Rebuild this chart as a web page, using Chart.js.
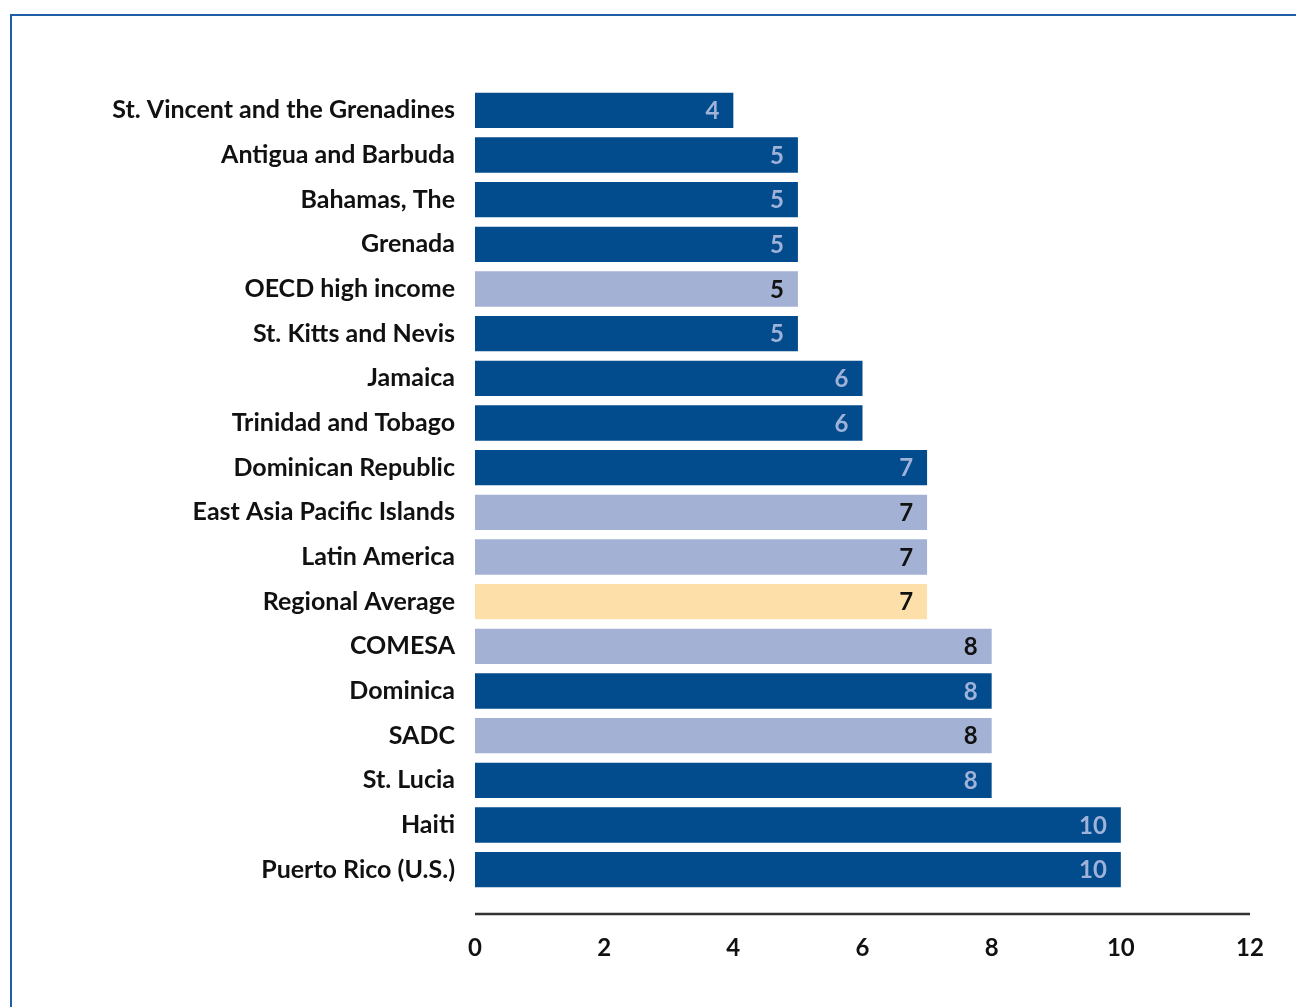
<!DOCTYPE html>
<html>
<head>
<meta charset="utf-8">
<script src="https://cdn.jsdelivr.net/npm/chart.js@4.4.1/dist/chart.umd.min.js"></script>
<style>
    body {
        margin: 0;
        background: #ffffff;
    }
    #wrap {
        position: relative;
        width: 1296px;
        height: 1007px;
    }
    #frame {
        position: absolute;
        left: 10px;
        top: 14px;
        width: 1300px;
        height: 1000px;
        border-top: 2px solid #1f5ea8;
        border-left: 2px solid #1f5ea8;
    }
    canvas {
        position: absolute;
        left: 0;
        top: 0;
    }
</style>
</head>
<body>
<div id="wrap">
    <div id="frame"></div>
    <canvas id="chart" width="1296" height="1007"></canvas>
</div>
<script>
const categories = [
    'St. Vincent and the Grenadines',
    'Antigua and Barbuda',
    'Bahamas, The',
    'Grenada',
    'OECD high income',
    'St. Kitts and Nevis',
    'Jamaica',
    'Trinidad and Tobago',
    'Dominican Republic',
    'East Asia Pacific Islands',
    'Latin America',
    'Regional Average',
    'COMESA',
    'Dominica',
    'SADC',
    'St. Lucia',
    'Haiti',
    'Puerto Rico (U.S.)'
];
const values = [4, 5, 5, 5, 5, 5, 6, 6, 7, 7, 7, 7, 8, 8, 8, 8, 10, 10];
// c = economy, r = comparison region, a = regional average
const groups = ['c', 'c', 'c', 'c', 'r', 'c', 'c', 'c', 'c', 'r', 'r', 'a', 'r', 'c', 'r', 'c', 'c', 'c'];
const xTicks = [0, 2, 4, 6, 8, 10, 12];

const FONT = 'Lato, "Liberation Sans", sans-serif';
const barColors = { c: '#024b8c', r: '#a3b1d4', a: '#fde0a9' };
const textColors = { c: '#9fb2d9', r: '#111111', a: '#111111' };

// value written inside the right end of each bar
const valueLabels = {
    id: 'valueLabels',
    afterDatasetsDraw(chart) {
        const ctx = chart.ctx;
        const meta = chart.getDatasetMeta(0);
        ctx.save();
        ctx.font = 'bold 24px ' + FONT;
        ctx.textAlign = 'right';
        ctx.textBaseline = 'middle';
        meta.data.forEach((bar, i) => {
            ctx.fillStyle = textColors[groups[i]];
            ctx.fillText(String(values[i]), bar.x - 14, bar.y + 1);
        });
        ctx.restore();
    }
};

// x axis rule sits a little below the last bar
const axisRule = {
    id: 'axisRule',
    afterDraw(chart) {
        const ctx = chart.ctx;
        const x = chart.scales.x;
        const y = chart.chartArea.bottom + 22;
        ctx.save();
        ctx.strokeStyle = '#333333';
        ctx.lineWidth = 2.5;
        ctx.beginPath();
        ctx.moveTo(x.getPixelForValue(0), y);
        ctx.lineTo(x.getPixelForValue(12), y);
        ctx.stroke();
        ctx.restore();
    }
};

new Chart(document.getElementById('chart'), {
    type: 'bar',
    data: {
        labels: categories,
        datasets: [{
            data: values,
            backgroundColor: groups.map(g => barColors[g]),
            borderWidth: 0,
            barPercentage: 0.79,
            categoryPercentage: 1
        }]
    },
    options: {
        indexAxis: 'y',
        responsive: false,
        animation: false,
        layout: { padding: { top: 88, right: 46, left: 0, bottom: 0 } },
        plugins: {
            legend: { display: false },
            tooltip: { enabled: false }
        },
        scales: {
            x: {
                min: 0,
                max: 12,
                afterBuildTicks: s => { s.ticks = xTicks.map(v => ({ value: v })); },
                afterFit: s => {
                    s.height = 115;
                    s.paddingLeft = 0;
                    s.paddingRight = 0;
                },
                grid: { display: false, drawTicks: false },
                border: { display: false },
                ticks: {
                    padding: 42,
                    color: '#111111',
                    font: { family: FONT, size: 24, weight: 'bold' }
                }
            },
            y: {
                afterFit: s => { s.width = 475; },
                grid: { display: false, drawTicks: false },
                border: { display: false },
                ticks: {
                    padding: 20,
                    color: '#111111',
                    font: { family: FONT, size: 25, weight: 'bold' }
                }
            }
        }
    },
    plugins: [valueLabels, axisRule]
});
</script>
</body>
</html>
